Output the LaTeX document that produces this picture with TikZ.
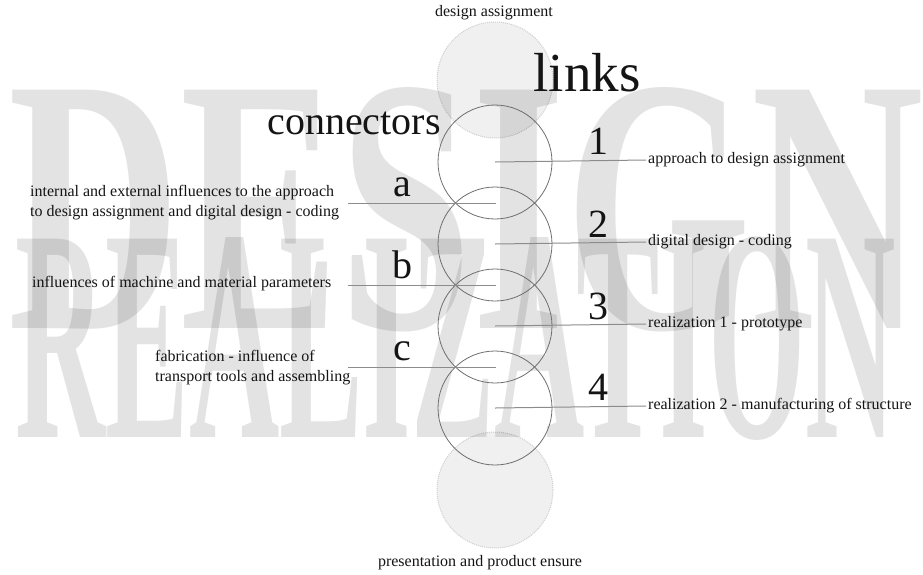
\documentclass[tikz,border=0pt]{standalone}
\usepackage{fontspec}
\setmainfont{Liberation Serif}
\usepackage{graphicx}
\usepackage{xcolor}
\usetikzlibrary{positioning}
\definecolor{inkcol}{RGB}{20,20,20}
\definecolor{ringcol}{RGB}{110,110,110}
\definecolor{leadcol}{RGB}{140,140,140}
\definecolor{discfill}{RGB}{240,240,240}
\definecolor{discedge}{RGB}{205,205,205}

\begin{document}
\begin{tikzpicture}[x=1pt,y=-1pt,
  bgword/.style={inner sep=0pt,anchor=base west,text=black,text opacity=0.11},
  ring/.style={circle,draw=ringcol,line width=0.8pt,minimum size=114pt,inner sep=0pt},
  disc/.style={circle,fill=discfill,draw=discedge,densely dotted,line width=1pt,
               minimum size=116pt,inner sep=0pt},
  lead/.style={draw=leadcol,line width=1pt},
  note/.style={font=\fontsize{16}{20}\selectfont,text=inkcol,inner sep=2pt},
  bigmark/.style={font=\fontsize{40}{40}\selectfont,text=inkcol,anchor=base,inner sep=0pt}
]
\useasboundingbox (0,0) rectangle (923,574);

% Start and end discs
\node[disc] (start) at (495,80) {};
\node[disc] (finish) at (495,490) {};

% Background words
\node[bgword,font=\fontsize{364}{364}\bfseries] (wdesign) at (8,328) {\scalebox{0.656}[1]{DESIGN}};
\node[bgword,font=\fontsize{303}{303}\bfseries] (wreal) at (15,437) {\scalebox{0.413}[1]{REALIZATION}};

% Links (rings)
\node[ring] (link1) at (495,162) {};
\node[ring] (link2) at (495,244) {};
\node[ring] (link3) at (495,326) {};
\node[ring] (link4) at (495,408) {};

% Headings
\node[font=\fontsize{55}{55}\selectfont,text=inkcol,anchor=base,inner sep=0pt] (links) at (587,91) {links};
\node[font=\fontsize{40}{40}\selectfont,text=inkcol,anchor=base,inner sep=0pt] (conn) at (354,134) {connectors};

% Top and bottom texts
\node[note] (top) at (494,13) {design assignment};
\node[note] (bottom) at (480,563) {presentation and product ensure};

% Link numbers and texts
\node[bigmark] (n1) at (598,154) {1};
\node[bigmark] (n2) at (598,237) {2};
\node[bigmark] (n3) at (598,319) {3};
\node[bigmark] (n4) at (598,400) {4};
\node[note,anchor=west] (txt1) at (646,160) {approach to design assignment};
\node[note,anchor=west] (txt2) at (646,242) {digital design - coding};
\node[note,anchor=west] (txt3) at (646,324) {realization 1 - prototype};
\node[note,anchor=west] (txt4) at (646,406) {realization 2 - manufacturing of structure};

% Connector letters and texts
\node[bigmark] (la) at (402,196) {a};
\node[bigmark] (lb) at (402,278) {b};
\node[bigmark] (lc) at (402,360) {c};
\node[note,anchor=west,align=left] (infa) at (28,203) {internal and external influences to the approach\\to design assignment and digital design - coding};
\node[note,anchor=west] (infb) at (30,284) {influences of machine and material parameters};
\node[note,anchor=west,align=left] (infc) at (153,368) {fabrication - influence of\\transport tools and assembling};

% Joints between rings
\coordinate (ja) at (496,203);
\coordinate (jb) at (496,285);
\coordinate (jc) at (496,367);
\coordinate (ja-end) at (348,203);
\coordinate (jb-end) at (348,285);
\coordinate (jc-end) at (348,367);

% Leader lines
\draw[lead] (link1.center) -- (txt1.west);
\draw[lead] (link2.center) -- (txt2.west);
\draw[lead] (link3.center) -- (txt3.west);
\draw[lead] (link4.center) -- (txt4.west);
\draw[lead] (ja-end) -- (ja);
\draw[lead] (jb-end) -- (jb);
\draw[lead] (jc-end) -- (jc);
\end{tikzpicture}
\end{document}
